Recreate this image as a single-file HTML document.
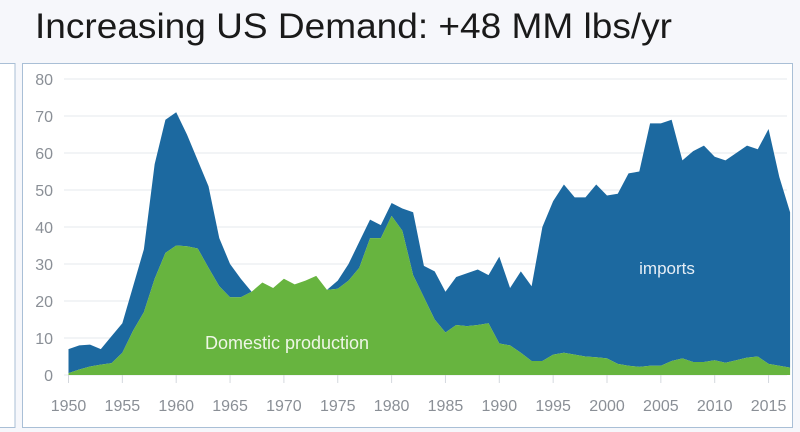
<!DOCTYPE html>
<html><head><meta charset="utf-8"><style>
html,body{margin:0;padding:0;background:#f6f7fb;}
svg{display:block;font-family:"Liberation Sans",sans-serif;}
</style></head><body>
<svg id="chart" width="800" height="432" viewBox="0 0 800 432">
<rect x="0" y="0" width="800" height="432" fill="#f6f7fb"/>
<text x="35" y="38" font-size="35" font-weight="300" fill="#1a1a1a" textLength="637" lengthAdjust="spacingAndGlyphs">Increasing US Demand: +48 MM lbs/yr</text>
<rect x="-5" y="63.5" width="20" height="364" fill="#fff" stroke="#a9bfd6" stroke-width="1"/>
<rect x="22.5" y="63.5" width="770" height="364" fill="#fff" stroke="#a9bfd6" stroke-width="1"/>
<g id="grid"></g>
<g id="areas"></g>
<g id="axes"></g>
<text x="287" y="349" font-size="18" fill="#eef6e6" text-anchor="middle">Domestic production</text>
<text x="667" y="274" font-size="17" fill="#e6eef6" text-anchor="middle">imports</text>
</svg>
<script>
const years = [];
for (let y = 1950; y <= 2017; y++) years.push(y);
const totalDemand = [7,8,8.2,7,10.5,14,24,34,57,69,71,65,58,51,37,30,26,22.5,25,23.5,26,24.5,25.5,26.8,23,25.5,30,36,42,40.5,46.5,45,44,29.5,28,22.5,26.5,27.5,28.5,27,32,23.5,28,24,40,47,51.5,48,48,51.5,48.5,49,54.5,55,68,68,69,58,60.5,62,59,58,60,62,61,66.5,53.5,44];
const domestic = [0.5,1.5,2.3,2.8,3.2,6,12,17,26,33,35,34.8,34.2,29,24,21,21,22.5,25,23.5,26,24.5,25.5,26.8,23,23.3,25.5,29,37,37,43,39,27,21,15,11.5,13.5,13.2,13.5,14,8.5,8,6,3.8,3.8,5.5,6,5.5,5,4.8,4.5,3,2.5,2.2,2.5,2.5,3.8,4.5,3.5,3.5,4,3.3,4,4.7,5,3,2.5,2];
const yTicks = [0,10,20,30,40,50,60,70,80];
const xTicks = [1950,1955,1960,1965,1970,1975,1980,1985,1990,1995,2000,2005,2010,2015];

const NS = "http://www.w3.org/2000/svg";
const xs = v => 68.5 + (v - 1950) * 10.77;
const ys = v => 375 - v * 3.7;

const grid = document.getElementById('grid');
const axes = document.getElementById('axes');
const areas = document.getElementById('areas');

yTicks.forEach(t => {
  const l = document.createElementNS(NS, 'line');
  l.setAttribute('x1', 64); l.setAttribute('x2', 787);
  l.setAttribute('y1', ys(t)); l.setAttribute('y2', ys(t));
  l.setAttribute('stroke', '#e6e8ec'); l.setAttribute('stroke-width', 1);
  
  
  grid.appendChild(l);
  const tx = document.createElementNS(NS, 'text');
  tx.setAttribute('x', 53); tx.setAttribute('y', ys(t) + 6);
  tx.setAttribute('font-size', 16); tx.setAttribute('fill', '#8a8f96');
  tx.setAttribute('text-anchor', 'end');
  tx.textContent = t;
  
  
  axes.appendChild(tx);
});

function areaPath(top, bottom) {
  let d = '';
  years.forEach((y, i) => { d += (i ? 'L' : 'M') + xs(y) + ',' + ys(top[i]); });
  for (let i = years.length - 1; i >= 0; i--) d += 'L' + xs(years[i]) + ',' + ys(bottom ? bottom[i] : 0);
  return d + 'Z';
}
const pImp = document.createElementNS(NS, 'path');
pImp.setAttribute('d', areaPath(totalDemand, domestic));
pImp.setAttribute('fill', '#1c69a0');


areas.appendChild(pImp);
const pDom = document.createElementNS(NS, 'path');
pDom.setAttribute('d', areaPath(domestic, null));
pDom.setAttribute('fill', '#67b43f');


areas.appendChild(pDom);

xTicks.forEach(t => {
  const l = document.createElementNS(NS, 'line');
  l.setAttribute('x1', xs(t)); l.setAttribute('x2', xs(t));
  l.setAttribute('y1', 375); l.setAttribute('y2', 383);
  l.setAttribute('stroke', '#d4d8de'); l.setAttribute('stroke-width', 1);
  
  
  axes.appendChild(l);
  const tx = document.createElementNS(NS, 'text');
  tx.setAttribute('x', xs(t)); tx.setAttribute('y', 411);
  tx.setAttribute('font-size', 16); tx.setAttribute('fill', '#8a8f96');
  tx.setAttribute('text-anchor', 'middle');
  tx.textContent = t;
  
  
  axes.appendChild(tx);
});
</script>
</body></html>
